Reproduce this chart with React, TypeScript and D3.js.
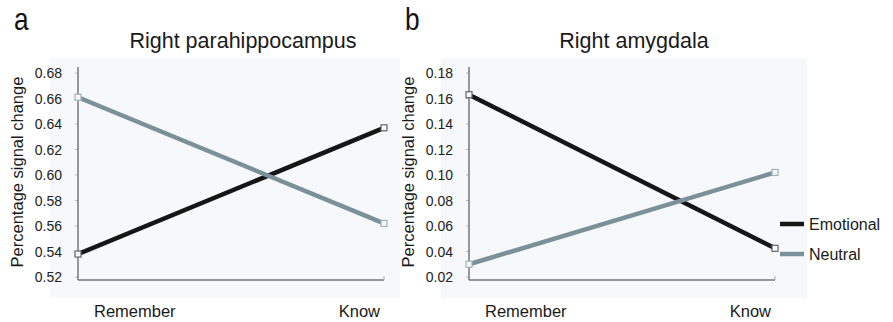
import * as d3 from 'd3';

const categories = ['Remember', 'Know'];
const seriesNames = ['Emotional', 'Neutral'];

// Right parahippocampus
const paraEmotional = [0.538, 0.637];
const paraNeutral = [0.661, 0.562];
const paraTicks = [0.52, 0.54, 0.56, 0.58, 0.6, 0.62, 0.64, 0.66, 0.68];

// Right amygdala
const amygEmotional = [0.163, 0.0425];
const amygNeutral = [0.030, 0.102];
const amygTicks = [0.02, 0.04, 0.06, 0.08, 0.1, 0.12, 0.14, 0.16, 0.18];

const colors = { Emotional: '#161616', Neutral: '#7b9199' };
const markerStroke = { Emotional: '#666', Neutral: '#9fb3bb' };
const font = "'Liberation Sans', Arial, sans-serif";

const Panel = ({ letter, title, ox, emotional, neutral, ticks, legend }) => {
  const x = d3.scalePoint().domain(categories).range([ox, ox + 306]);
  const y = d3
    .scaleLinear()
    .domain([ticks[0], ticks[ticks.length - 1]])
    .range([277, 73]);
  const line = d3
    .line()
    .x((d) => x(d.cat))
    .y((d) => y(d.v));
  const series = [
    { name: 'Emotional', values: emotional },
    { name: 'Neutral', values: neutral },
  ].map((s) => ({ ...s, pts: s.values.map((v, i) => ({ cat: categories[i], v })) }));
  const x0 = x(categories[0]);
  const x1 = x(categories[1]);

  return (
    <g fontFamily={font}>
      <rect x={ox - 28} y={58} width={legend ? 366 : 350} height={240} fill="#f6f8fb" />
      <text x={ox - 64} y={30} fontSize={32} fill="#111" transform={`translate(${ox - 64},0) scale(0.82,1) translate(${-(ox - 64)},0)`}>
        {letter}
      </text>
      <text x={ox + 165} y={48} fontSize={21.5} textAnchor="middle" fill="#1a1a1a">
        {title}
      </text>
      <text
        transform={`translate(${ox - 55},${172}) rotate(-90)`}
        fontSize={16.5}
        textAnchor="middle"
        fill="#1a1a1a"
      >
        Percentage signal change
      </text>
      {ticks.map((t) => (
        <g key={t}>
          <line x1={x0 - 3} x2={x0} y1={y(t)} y2={y(t)} stroke="#bbb" strokeWidth={1} />
          <text x={x0 - 16} y={y(t) + 5} fontSize={14} textAnchor="end" fill="#222">
            {t.toFixed(2)}
          </text>
        </g>
      ))}
      <line x1={x0} x2={x0} y1={67} y2={280} stroke="#777" strokeWidth={1.5} />
      <line x1={x0} x2={x1} y1={280} y2={280} stroke="#777" strokeWidth={1.5} />
      <line x1={x1} x2={x1} y1={276} y2={280} stroke="#aaa" strokeWidth={1} />
      <text x={x0 + 16} y={317} fontSize={16.5} fill="#1a1a1a">
        {categories[0]}
      </text>
      <text x={x1 - 4} y={317} fontSize={16.5} textAnchor="end" fill="#1a1a1a">
        {categories[1]}
      </text>
      {series.map((s) => (
        <g key={s.name}>
          <path d={line(s.pts)} fill="none" stroke={colors[s.name]} strokeWidth={4.5} />
          {s.pts.map((p) => (
            <rect
              key={p.cat}
              x={x(p.cat) - 3}
              y={y(p.v) - 3}
              width={6}
              height={6}
              fill="#f6f8fb"
              stroke={markerStroke[s.name]}
              strokeWidth={1.2}
            />
          ))}
        </g>
      ))}
      {legend &&
        seriesNames.map((name, i) => (
          <g key={name} transform={`translate(${ox + 311},${224 + i * 30})`}>
            <line x1={0} x2={24} y1={0} y2={0} stroke={colors[name]} strokeWidth={4.5} />
            <text x={29} y={6} fontSize={16} fill="#1a1a1a">
              {name}
            </text>
          </g>
        ))}
    </g>
  );
};

export default function App() {
  return (
    <svg
      width={893}
      height={322}
      style={{ position: 'absolute', left: 0, top: 0, background: '#fff' }}
    >
      <Panel
        letter="a"
        title="Right parahippocampus"
        ox={78}
        emotional={paraEmotional}
        neutral={paraNeutral}
        ticks={paraTicks}
        legend={false}
      />
      <Panel
        letter="b"
        title="Right amygdala"
        ox={469}
        emotional={amygEmotional}
        neutral={amygNeutral}
        ticks={amygTicks}
        legend={true}
      />
    </svg>
  );
}
